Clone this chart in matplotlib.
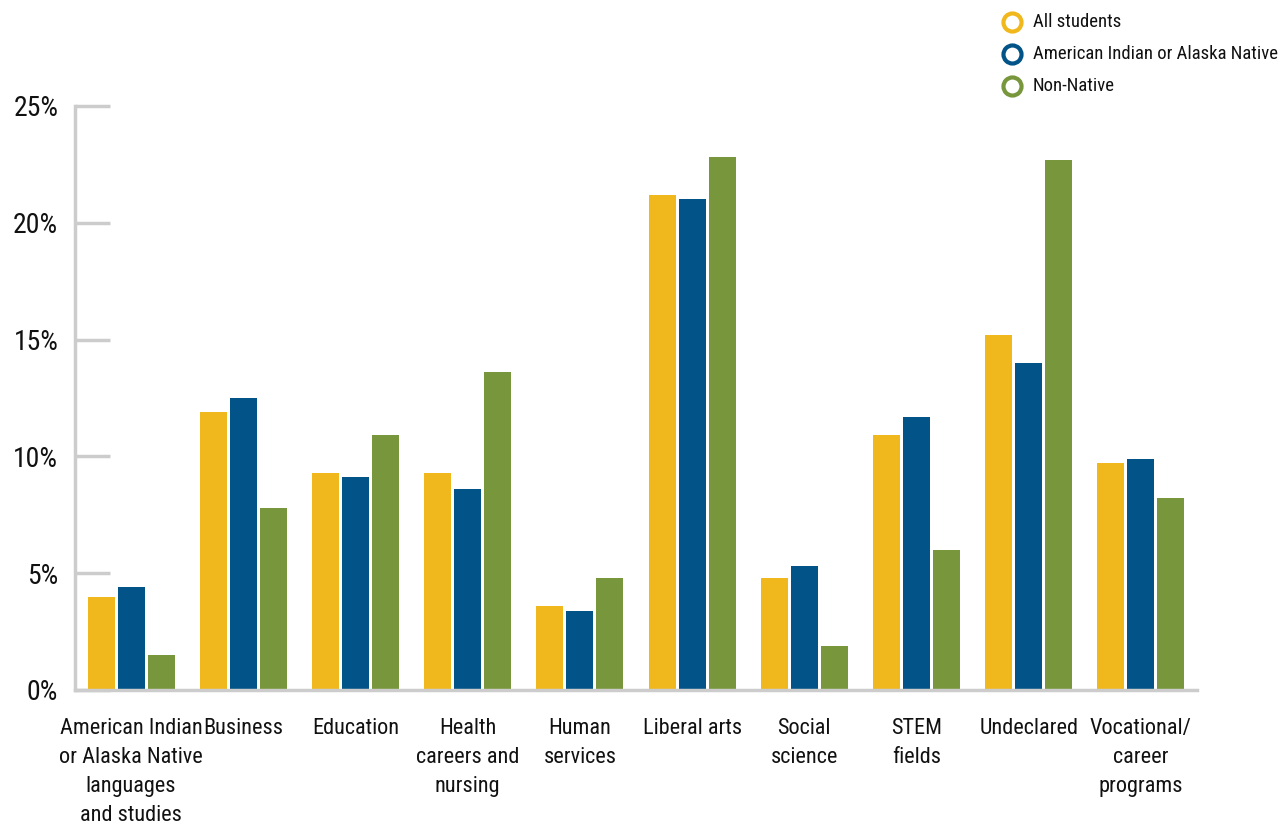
import matplotlib
matplotlib.use('Agg')
import matplotlib.pyplot as plt
from matplotlib.lines import Line2D
import numpy as np

COLORS = {
    'yellow': '#F0B81C',
    'blue': '#025387',
    'green': '#78963C',
    'axis': '#CCCCCC',
    'text': '#111111',
}

plt.rcParams['font.family'] = ['Roboto Condensed', 'Liberation Sans Narrow', 'DejaVu Sans']
plt.rcParams['font.stretch'] = 'condensed'

categories = [
    'American Indian\nor Alaska Native\nlanguages\nand studies',
    'Business',
    'Education',
    'Health\ncareers and\nnursing',
    'Human\nservices',
    'Liberal arts',
    'Social\nscience',
    'STEM\nfields',
    'Undeclared',
    'Vocational/\ncareer\nprograms',
]
series_names = ['All students', 'American Indian or Alaska Native', 'Non-Native']
all_students = [4.0, 11.9, 9.3, 9.3, 3.6, 21.2, 4.8, 10.9, 15.2, 9.7]
aian = [4.4, 12.5, 9.1, 8.6, 3.4, 21.0, 5.3, 11.7, 14.0, 9.9]
non_native = [1.5, 7.8, 10.9, 13.6, 4.8, 22.8, 1.9, 6.0, 22.7, 8.2]
yticks = [0, 5, 10, 15, 20, 25]

W, H = 1283, 826
fig = plt.figure(figsize=(W / 100, H / 100), dpi=100)
ax = fig.add_axes([75 / W, 1 - 690 / H, (1197 - 75) / W, (690 - 106) / H])

x = np.arange(len(categories))
step = 0.267
width = 0.24
series = [all_students, aian, non_native]
colors = [COLORS['yellow'], COLORS['blue'], COLORS['green']]
for i, (vals, c) in enumerate(zip(series, colors)):
    ax.bar(x + (i - 1) * step, vals, width=width, color=c, zorder=2)

ax.set_xlim(-0.5, 9.5)
ax.set_ylim(0, 25)
ax.set_yticks(yticks)
ax.set_yticklabels([f'{t}%' for t in yticks])
ax.set_xticks(x)
ax.set_xticklabels(categories, linespacing=1.5)

for s in ['top', 'right']:
    ax.spines[s].set_visible(False)
for s in ['left', 'bottom']:
    ax.spines[s].set_color(COLORS['axis'])
    ax.spines[s].set_linewidth(2.5)

ax.tick_params(axis='y', direction='in', length=25, width=2.5, color=COLORS['axis'],
               pad=12, labelsize=20, labelcolor=COLORS['text'])
ax.tick_params(axis='x', length=0, pad=20, labelsize=16, labelcolor=COLORS['text'])

# legend: open circle markers drawn by hand in figure pixels
leg_y = [22, 54, 86]
for name, c, y in zip(series_names, colors, leg_y):
    fig.add_artist(Line2D([1012 / W], [1 - y / H], marker='o', linestyle='none',
                          markersize=13, markerfacecolor='white', markeredgecolor=c,
                          markeredgewidth=3, transform=fig.transFigure))
    fig.text(1033 / W, 1 - y / H, name, ha='left', va='center', fontsize=13.5,
             color=COLORS['text'])

fig.savefig('out.png', dpi=100, facecolor='white')
